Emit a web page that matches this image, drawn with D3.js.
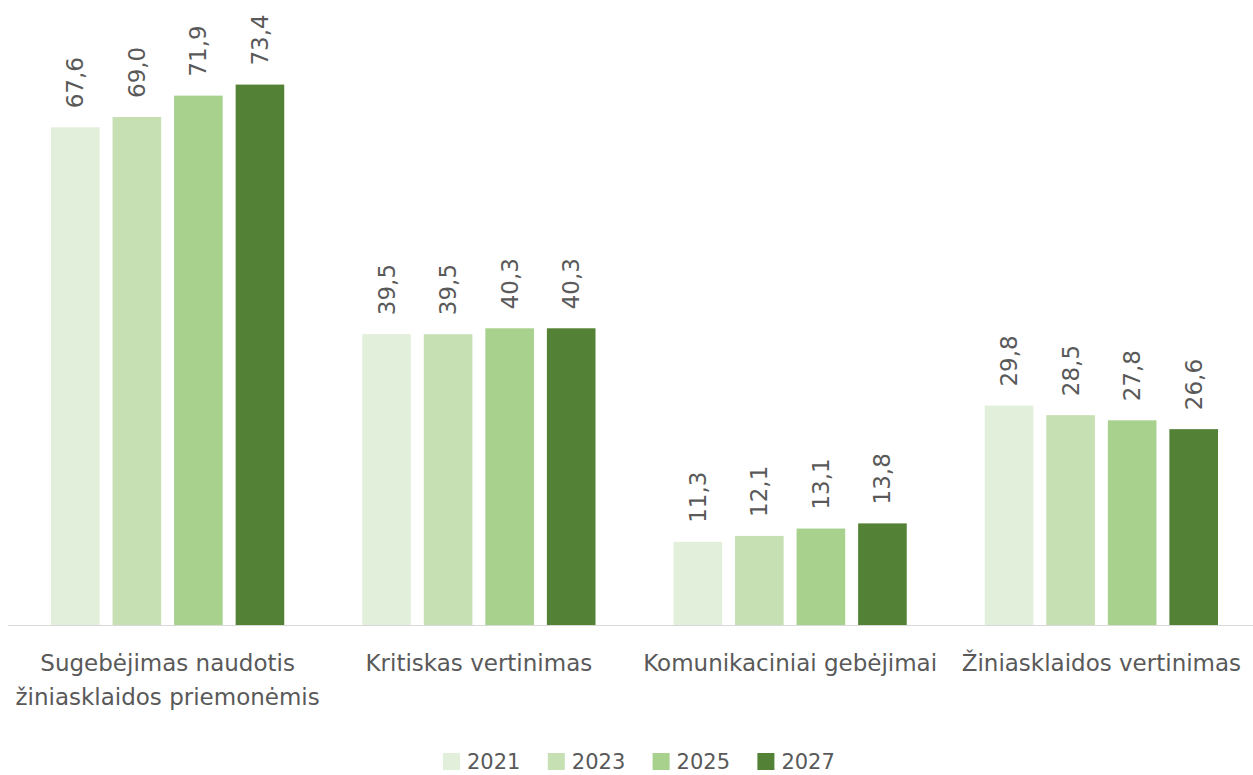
<!DOCTYPE html>
<html>
<head>
<meta charset="utf-8">
<script src="https://cdn.jsdelivr.net/npm/d3@7"></script>
<style>
  body { margin: 0; background: #fff; }
  svg { display: block; font-family: "DejaVu Sans", sans-serif; }
</style>
</head>
<body>
<div id="chart"></div>
<script>
var categories = [
  ["Sugebėjimas naudotis", "žiniasklaidos priemonėmis"],
  ["Kritiskas vertinimas"],
  ["Komunikaciniai gebėjimai"],
  ["Žiniasklaidos vertinimas"]
];
var years = ["2021", "2023", "2025", "2027"];
var values2021 = [67.6, 39.5, 11.3, 29.8];
var values2023 = [69.0, 39.5, 12.1, 28.5];
var values2025 = [71.9, 40.3, 13.1, 27.8];
var values2027 = [73.4, 40.3, 13.8, 26.6];
var series = [values2021, values2023, values2025, values2027];
var colors = ["#e2efda", "#c6e0b4", "#a9d18e", "#538135"];

var width = 1253, height = 775;
var textColor = "#595959";

var svg = d3.select("#chart").append("svg")
    .attr("width", width)
    .attr("height", height);

var x0 = d3.scaleBand()
    .domain(d3.range(categories.length))
    .range([8, 1253])
    .paddingInner(0)
    .paddingOuter(0);

var x1 = d3.scaleBand()
    .domain(d3.range(years.length))
    .range([43, x0.bandwidth() - 35])
    .paddingInner(0.21);

var y = d3.scaleLinear()
    .domain([0, 80])
    .range([625, 36]);

var fmt = function(v) { return v.toFixed(1).replace(".", ","); };

var group = svg.selectAll("g.cat")
  .data(categories)
  .enter().append("g")
    .attr("class", "cat")
    .attr("transform", function(d, i) { return "translate(" + x0(i) + ",0)"; });

group.selectAll("rect")
  .data(function(d, i) { return series.map(function(s, j) { return { s: j, v: s[i] }; }); })
  .enter().append("rect")
    .attr("x", function(d) { return x1(d.s); })
    .attr("y", function(d) { return y(d.v); })
    .attr("width", x1.bandwidth())
    .attr("height", function(d) { return y(0) - y(d.v); })
    .attr("fill", function(d) { return colors[d.s]; });

group.selectAll("text.val")
  .data(function(d, i) { return series.map(function(s, j) { return { s: j, v: s[i] }; }); })
  .enter().append("text")
    .attr("class", "val")
    .attr("transform", function(d) {
      return "translate(" + (x1(d.s) + x1.bandwidth() / 2 + 8) + "," + (y(d.v) - 19) + ") rotate(-90)";
    })
    .attr("text-anchor", "start")
    .attr("font-size", 23)
    .attr("fill", textColor)
    .text(function(d) { return fmt(d.v); });

// axis line
svg.append("line")
    .attr("x1", 8).attr("x2", 1253)
    .attr("y1", y(0) + 0.5).attr("y2", y(0) + 0.5)
    .attr("stroke", "#d9d9d9")
    .attr("stroke-width", 1);

// category labels
group.append("text")
    .attr("text-anchor", "middle")
    .attr("font-size", 23)
    .attr("fill", textColor)
    .selectAll("tspan")
    .data(function(d) { return d; })
    .enter().append("tspan")
      .attr("x", x0.bandwidth() / 2 + 4)
      .attr("y", function(d, i) { return 671 + i * 34; })
      .text(function(d) { return d; });

// legend
var legend = svg.append("g").attr("transform", "translate(443,769)");
var item = legend.selectAll("g")
  .data(years)
  .enter().append("g")
    .attr("transform", function(d, i) { return "translate(" + (i * 104.8) + ",0)"; });
item.append("rect")
    .attr("x", 0).attr("y", -16)
    .attr("width", 17).attr("height", 17)
    .attr("fill", function(d, i) { return colors[i]; });
item.append("text")
    .attr("x", 24).attr("y", 0)
    .attr("font-size", 21)
    .attr("fill", textColor)
    .text(function(d) { return d; });
</script>
</body>
</html>
